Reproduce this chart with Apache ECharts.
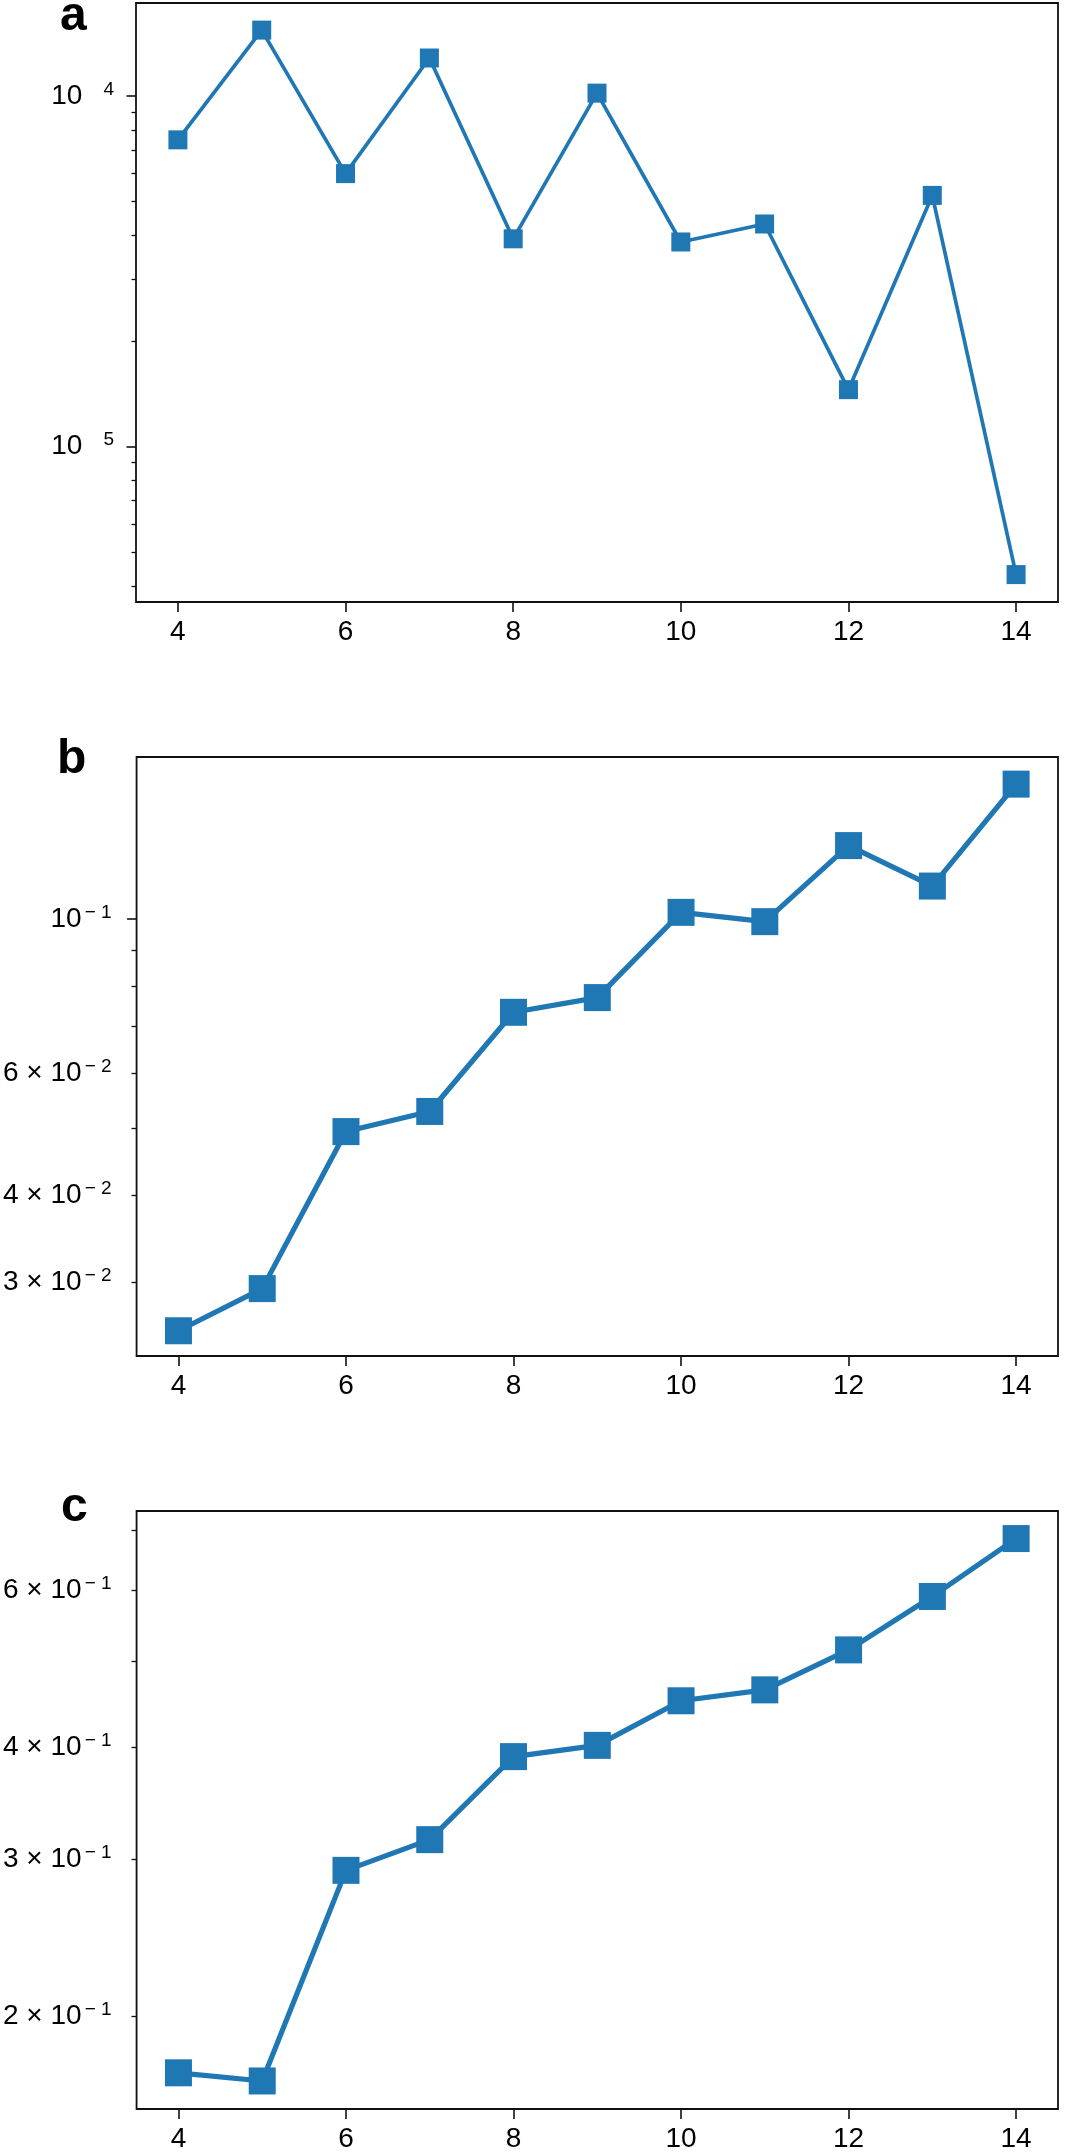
<!DOCTYPE html>
<html>
<head>
<meta charset="utf-8">
<script src="https://cdn.jsdelivr.net/npm/echarts@6/dist/echarts.min.js"></script>
<style>
html,body{margin:0;padding:0;background:#fff;}
#chart{width:1065px;height:2153px;}
</style>
</head>
<body>
<div id="chart"></div>
<script>
// ---------------- data ----------------
const nValues = [4, 5, 6, 7, 8, 9, 10, 11, 12, 13, 14];
const seriesA = [7.49e-5, 1.540e-4, 6.00e-5, 1.282e-4, 3.91e-5, 1.018e-4, 3.83e-5, 4.31e-5, 1.452e-5, 5.20e-5, 4.31e-6];
const seriesB = [0.02555, 0.02938, 0.04943, 0.05284, 0.07339, 0.07705, 0.1022, 0.0991, 0.1275, 0.1115, 0.1563];
const seriesC = [0.1728, 0.1692, 0.2913, 0.3153, 0.3906, 0.4021, 0.4511, 0.4640, 0.5144, 0.5904, 0.6855];

const xTicks = [4, 6, 8, 10, 12, 14];
const xRange = [3.5, 14.5];

const rangeA = [3.60e-6, 1.84e-4];
const rangeB = [0.0235, 0.171];
const rangeC = [0.1574, 0.736];

const majorTicksA = [1e-5, 1e-4];
const minorTicksA = [4e-6, 5e-6, 6e-6, 7e-6, 8e-6, 9e-6, 2e-5, 3e-5, 4e-5, 5e-5, 6e-5, 7e-5, 8e-5, 9e-5];
const labelTicksA = [1e-5, 1e-4];

const majorTicksB = [0.1];
const minorTicksB = [0.03, 0.04, 0.05, 0.06, 0.07, 0.08, 0.09];
const labelTicksB = [0.03, 0.04, 0.06, 0.1];

const majorTicksC = [];
const minorTicksC = [0.2, 0.3, 0.4, 0.5, 0.6, 0.7];
const labelTicksC = [0.2, 0.3, 0.4, 0.6];

const panelLetters = ['a', 'b', 'c'];

// ---------------- layout / style ----------------
const FONT = '"Liberation Sans", Arial, Helvetica, sans-serif';
const BLUE = '#1f77b4';
const GRID_LEFT = 136, GRID_W = 922, GRID_H = 599;
const panels = [
  { top: 3,    data: seriesA, range: rangeA, major: majorTicksA, minor: minorTicksA, labels: labelTicksA, dropMinus: true,  symbolSize: 19, lineWidth: 3.7, margin: 22, letter: { x: 60, y: 17 } },
  { top: 757,  data: seriesB, range: rangeB, major: majorTicksB, minor: minorTicksB, labels: labelTicksB, dropMinus: false, symbolSize: 27, lineWidth: 5.2, margin: 25, letter: { x: 57, y: 760 } },
  { top: 1511, data: seriesC, range: rangeC, major: majorTicksC, minor: minorTicksC, labels: labelTicksC, dropMinus: false, symbolSize: 27, lineWidth: 5.2, margin: 25, letter: { x: 61, y: 1508 } }
];

const L = Math.log10;

function makeFormatter(dropMinus) {
  return function (v) {
    const e = Math.floor(v + 1e-9);
    const m = Math.round(Math.pow(10, v - e));
    let sup;
    if (dropMinus) sup = '{g|}{s|' + Math.abs(e) + '}';
    else sup = '{s|' + (e < 0 ? '\u2212 ' + Math.abs(e) : String(e)) + '}';
    if (m === 1) return '{b|10}' + sup;
    return '{b|' + m + ' \u00d7 10}' + sup;
  };
}

const rich = {
  b: { fontSize: 28, fontFamily: FONT, color: '#000', lineHeight: 32 },
  s: { fontSize: 19, fontFamily: FONT, color: '#000', lineHeight: 24, verticalAlign: 'top', padding: [0, 0, 0, 3] },
  g: { width: 18, lineHeight: 24 }
};

const grids = [], xAxes = [], yAxes = [], series = [], graphics = [];

panels.forEach((p, i) => {
  grids.push({
    left: GRID_LEFT, top: p.top, width: GRID_W, height: GRID_H,
    show: true, borderColor: '#111', borderWidth: 1.8, backgroundColor: 'transparent',
    containLabel: false
  });
  xAxes.push({
    type: 'value', gridIndex: i, min: xRange[0], max: xRange[1],
    axisLine: { show: false },
    splitLine: { show: false },
    axisTick: { show: true, customValues: xTicks, length: 10, lineStyle: { color: '#111', width: 1.6 } },
    axisLabel: { customValues: xTicks, margin: 16, fontSize: 28, fontFamily: FONT, color: '#000' }
  });
  // main y axis: labels + major ticks (log10 scale)
  yAxes.push({
    type: 'value', gridIndex: i, position: 'left',
    min: L(p.range[0]), max: L(p.range[1]),
    axisLine: { show: false },
    splitLine: { show: false },
    axisTick: { show: p.major.length > 0, customValues: p.major.map(L), length: 9.5, lineStyle: { color: '#111', width: 1.6 } },
    axisLabel: { customValues: p.labels.map(L), margin: p.margin, formatter: makeFormatter(p.dropMinus), rich: rich }
  });
  // minor ticks axis (placed on the left edge)
  yAxes.push({
    type: 'value', gridIndex: i, position: 'right', offset: -GRID_W,
    min: L(p.range[0]), max: L(p.range[1]),
    axisLine: { show: false },
    splitLine: { show: false },
    axisLabel: { show: false },
    axisTick: { show: true, inside: true, customValues: p.minor.map(L), length: 4.5, lineStyle: { color: '#111', width: 1.3 } }
  });
  series.push({
    type: 'line',
    xAxisIndex: i, yAxisIndex: 2 * i,
    data: nValues.map((n, k) => [n, L(p.data[k])]),
    symbol: 'rect', symbolSize: p.symbolSize,
    showSymbol: true, showAllSymbol: true,
    lineStyle: { color: BLUE, width: p.lineWidth },
    itemStyle: { color: BLUE, borderWidth: 0 },
    emphasis: { disabled: true },
    silent: true
  });
  graphics.push({
    type: 'text', x: p.letter.x, y: p.letter.y,
    style: { text: panelLetters[i], font: 'bold 48px ' + FONT, fill: '#000', textAlign: 'left', textVerticalAlign: 'middle' }
  });
});

const chart = echarts.init(document.getElementById('chart'), null, { renderer: 'canvas' });
chart.setOption({
  animation: false,
  backgroundColor: '#fff',
  grid: grids,
  xAxis: xAxes,
  yAxis: yAxes,
  series: series,
  graphic: graphics
});
</script>
</body>
</html>
